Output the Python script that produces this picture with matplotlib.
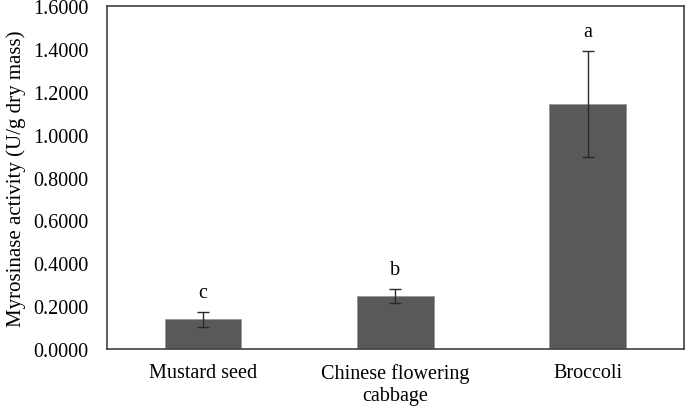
import matplotlib.pyplot as plt
import numpy as np

plt.rcParams['font.family'] = ['Liberation Serif', 'DejaVu Serif']

# data
categories = ['Mustard seed', 'Chinese flowering\ncabbage', 'Broccoli']
activity = [0.140, 0.248, 1.145]
errors = [0.035, 0.034, 0.247]
letters = ['c', 'b', 'a']

fig = plt.figure(figsize=(6.85, 4.1), dpi=100)
ax = fig.add_axes([0.156, 0.146, 0.842, 0.837])

x = np.arange(len(categories))
ax.bar(x, activity, width=0.4, color='#58595b', edgecolor='#9a9a9a', linewidth=0.6,
       yerr=errors, error_kw=dict(ecolor='#2a2a2a', elinewidth=1.0, capsize=4, capthick=1.0))

# significance letters above the error bars
for xi, v, e, l in zip(x, activity, errors, letters):
    ax.text(xi, v + e + 0.09, l, ha='center', va='center', fontsize=14.5)

ax.set_xlim(-0.5, 2.5)
ax.set_ylim(0, 1.6)
ax.set_yticks(np.arange(0, 1.61, 0.2))
ax.set_yticklabels([f'{t:.4f}' for t in np.arange(0, 1.61, 0.2)])
ax.set_xticks(x)
ax.set_xticklabels(categories, linespacing=1.2)
ax.tick_params(axis='both', length=0, labelsize=14.5)
ax.tick_params(axis='y', pad=13)
ax.tick_params(axis='x', pad=10)
ax.set_ylabel('Myrosinase activity (U/g dry mass)', fontsize=15, labelpad=5)

for s in ax.spines.values():
    s.set_color('#404040')
    s.set_linewidth(1.2)

fig.savefig('out.png', dpi=100)
